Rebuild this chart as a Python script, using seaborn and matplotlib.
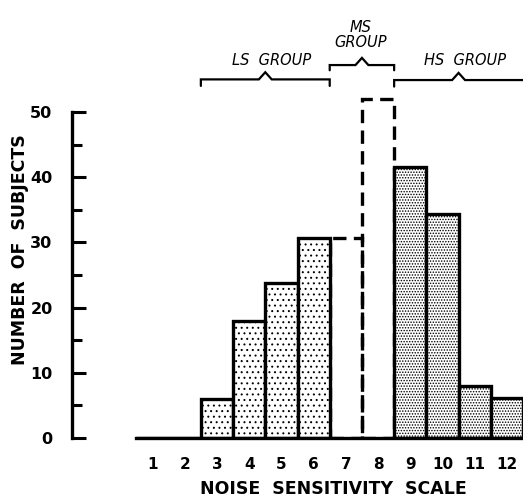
import matplotlib
matplotlib.use("Agg")
import matplotlib.pyplot as plt
import pandas as pd
import seaborn as sns

# values
scale = [1, 2, 3, 4, 5, 6, 7, 8, 9, 10, 11, 12]
subjects = [0, 0, 6, 18, 23.7, 30.6, 30.6, 52, 41.5, 34.4, 8, 6.2]
groups = ["LS", "LS", "LS", "LS", "LS", "LS", "MS", "MS", "HS", "HS", "HS", "HS"]
group_labels = {"LS": "LS  GROUP", "MS": "MS\nGROUP", "HS": "HS  GROUP"}
y_ticks = [0, 10, 20, 30, 40, 50]

data = pd.DataFrame({"scale": scale, "subjects": subjects, "group": groups})

sns.set_style("white")
plt.rcParams["font.family"] = ["DejaVu Sans"]
plt.rcParams["hatch.linewidth"] = 0.7
plt.rcParams["text.color"] = "black"
plt.rcParams["axes.labelcolor"] = "black"
plt.rcParams["xtick.color"] = "black"
plt.rcParams["ytick.color"] = "black"
plt.rcParams["axes.edgecolor"] = "black"

fig = plt.figure(figsize=(5.23, 5.0), dpi=100)
ax = fig.add_axes([72 / 523, 62 / 500, 451 / 523, 438 / 500])

sns.barplot(data=data, x="scale", y="subjects", native_scale=True, width=1,
            color="white", edgecolor="black", linewidth=2.4, ax=ax)

for patch, g in zip(ax.patches, data["group"]):
    if g == "MS":
        patch.set_linestyle((0, (4, 2.2)))
        patch.set_facecolor("none")
        patch.set_zorder(1)
    elif g == "LS":
        patch.set_hatch("...")
        patch.set_zorder(2)
    else:
        patch.set_hatch("......")
        patch.set_zorder(2)

ax.set_xlim(-1.5, 12.5)
ax.set_ylim(0, 438 / 6.52)

# group braces across the top (over the bars that hold subjects)
spans = data[data["subjects"] > 0].groupby("group", sort=False)["scale"].agg(["min", "max"])
brace_y = {"LS": 55.0, "MS": 57.2, "HS": 54.9}
for g, row in spans.iterrows():
    x0, x1 = row["min"] - 0.5, row["max"] + 0.5
    xc = (x0 + x1) / 2
    y = brace_y[g]
    tip = 0.8 if g == "MS" else 1.0
    if g == "HS":
        xs = [x0, x0, xc - 0.2, xc, xc + 0.2, x1 + 0.3]
        ys = [y - tip, y, y, y + 1.1, y, y]
    else:
        xs = [x0, x0, xc - 0.2, xc, xc + 0.2, x1, x1]
        ys = [y - tip, y, y, y + 1.1, y, y, y - tip]
    ax.plot(xs, ys, color="black", lw=1.6, clip_on=False, solid_joinstyle="miter")
    if g == "MS":
        ax.text(xc - 0.05, y + 2.3, group_labels[g], ha="center", va="bottom",
                fontsize=10.5, style="italic", linespacing=1.0)
    else:
        ax.text(xc + 0.2, y + 1.8, group_labels[g], ha="center", va="bottom",
                fontsize=10.5, style="italic")

sns.despine(ax=ax, top=True, right=True)
ax.spines["left"].set_position(("data", -1.5))
ax.spines["left"].set_bounds(0, 50)
ax.spines["bottom"].set_bounds(0.5, 12.5)
ax.spines["left"].set_linewidth(2.4)
ax.spines["bottom"].set_linewidth(2.4)

ax.set_yticks(y_ticks)
ax.set_yticks([5, 15, 25, 35, 45], minor=True)
ax.tick_params(axis="y", which="major", left=True, direction="in", length=10, width=2.2,
               labelsize=11.5, pad=14)
ax.tick_params(axis="y", which="minor", left=True, direction="in", length=7, width=2.2)
for lbl in ax.get_yticklabels():
    lbl.set_fontweight("bold")

ax.set_xticks(scale)
ax.set_xticklabels([str(s) for s in scale])
ax.tick_params(axis="x", length=0, labelsize=11, pad=14)
for lbl in ax.get_xticklabels():
    lbl.set_fontweight("bold")

ax.set_xlabel("NOISE  SENSITIVITY  SCALE", fontsize=12.5, fontweight="bold")
ax.set_ylabel("NUMBER  OF  SUBJECTS", fontsize=12.5, fontweight="bold")
ax.yaxis.set_label_coords(-0.095, 0.43)
ax.xaxis.set_label_coords(0.58, -0.095)

fig.savefig("out.png", dpi=100)
